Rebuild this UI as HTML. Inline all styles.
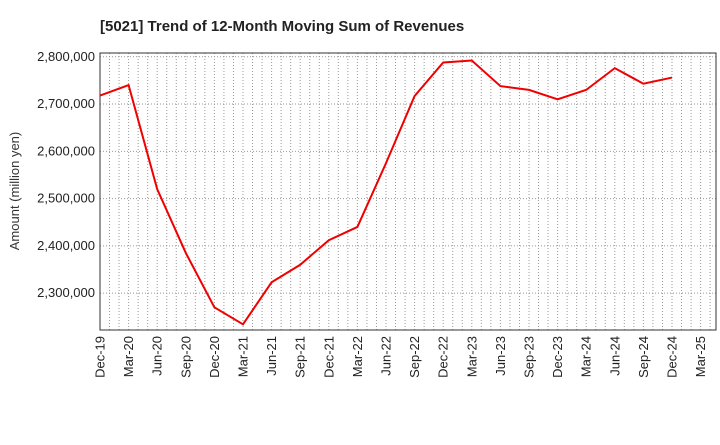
<!DOCTYPE html>
<html><head><meta charset="utf-8"><style>
body{margin:0;background:#fff;font-family:"Liberation Sans",sans-serif;}
svg text{font-family:"Liberation Sans",sans-serif;}
</style></head><body>
<svg id="chart" width="720" height="440">
<text x="100" y="31" font-size="15" font-weight="bold" fill="#222">[5021]  Trend of 12-Month Moving Sum of Revenues</text>
<text transform="translate(19,191) rotate(-90)" text-anchor="middle" font-size="13" fill="#333">Amount (million yen)</text>
<g id="grid"></g><g id="axes"></g><g id="series"></g>
</svg>
<script>
const categories=["Dec-19","Mar-20","Jun-20","Sep-20","Dec-20","Mar-21","Jun-21","Sep-21","Dec-21","Mar-22","Jun-22","Sep-22","Dec-22","Mar-23","Jun-23","Sep-23","Dec-23","Mar-24","Jun-24","Sep-24","Dec-24","Mar-25"];
const revenues=[2718000,2740000,2520000,2385000,2270000,2234000,2323000,2360000,2412000,2440000,2575000,2717000,2788000,2792000,2738000,2730000,2710000,2730000,2776000,2743000,2756000];
const yTicks=[2300000,2400000,2500000,2600000,2700000,2800000];
const yTickLabels=["2,300,000","2,400,000","2,500,000","2,600,000","2,700,000","2,800,000"];
const L=100,R=716,T=53,B=330;
const Q=28.6;
const yMin=2222000,yMax=2808000;
const xs=i=>L+Q*i;
const ys=v=>B-(v-yMin)/(yMax-yMin)*(B-T);
const NS="http://www.w3.org/2000/svg";
const grid=document.getElementById('grid'),axes=document.getElementById('axes'),series=document.getElementById('series');
function mk(tag,attrs,parent){const e=document.createElementNS(NS,tag);for(const k in attrs)e.setAttribute(k,attrs[k]);parent.appendChild(e);return e;}
for(let m=1;L+m*Q/3<R-1;m++){const x=L+m*Q/3;
const g=mk('line',{x1:x,x2:x,y1:T,y2:B,stroke:'#999','stroke-dasharray':'1,2','stroke-width':1},grid);

}
yTicks.forEach((v,i)=>{const y=ys(v);
const g=mk('line',{x1:L,x2:R,y1:y,y2:y,stroke:'#999','stroke-dasharray':'1,2'},grid);


const t=mk('text',{x:L-5,y:y+4,'text-anchor':'end','font-size':13,fill:'#222'},axes);t.textContent=yTickLabels[i];

});
const frame=mk('rect',{x:L,y:T,width:R-L,height:B-T,fill:'none',stroke:'#333'},axes);


categories.forEach((c,i)=>{const x=xs(i);
const t=mk('text',{transform:`translate(${x+4.5},${B+6}) rotate(-90)`,'text-anchor':'end','font-size':13,fill:'#222'},axes);t.textContent=c;

});
const pts=revenues.map((v,i)=>xs(i)+','+ys(v)).join(' ');
const line=mk('polyline',{points:pts,fill:'none',stroke:'#f00000','stroke-width':2},series);


</script>
</body></html>
